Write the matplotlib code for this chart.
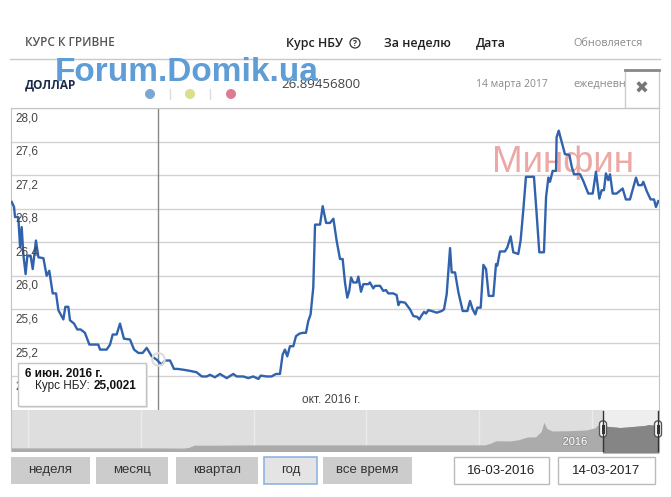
import matplotlib
matplotlib.use('Agg')
import matplotlib.pyplot as plt
import matplotlib.patheffects as pe
import numpy as np
from matplotlib.patches import Rectangle, FancyBboxPatch, Circle

# days since 16-03-2016 and NBU USD rate
days = [0, 1.3, 1.85, 3.7, 4.7, 5.6, 6.5, 7.8, 8.8, 10.6, 11.8, 13.6, 15.0, 17.8,
        19.6, 21.1, 23.0, 24.9, 26.2, 29.0, 30.1, 31.8, 32.7, 35.0, 36.8, 38.7,
        41.1, 43.6, 48.6, 49.6, 53.3, 55.2, 56.7, 58.9, 60.8, 63.0, 66.4, 68.7,
        71.1, 73.5, 75.8, 78.6, 81.4, 84.2, 86.1, 88.9, 91.1, 93.0, 96.4, 99.2,
        103.8, 106.7, 109.5, 111.3, 114.1, 116.9, 120.7, 124.4, 126.3, 130.0,
        132.8, 135.6, 138.5, 139.8, 143.1, 145.9, 148.4, 150.6, 152.1, 153.4,
        154.7, 156.2, 158.1, 159.6, 161.5, 163.4, 165.2, 166.5, 167.8, 169.3,
        170.3, 173.1, 174.6, 176.5, 178.7, 180.6, 182.4, 184.3, 185.8, 187.1,
        188.4, 189.5, 190.5, 191.8, 193.7, 194.6, 196.1, 197.4, 200.2, 201.1,
        203.0, 204.0, 206.8, 208.6, 210.1, 211.4, 214.2, 216.1, 217.1, 218.0,
        220.8, 223.6, 225.5, 227.7, 228.8, 230.2, 231.5, 232.6, 233.9, 235.8,
        238.6, 241.4, 242.7, 244.2, 246.1, 247.0, 248.9, 250.8, 253.2, 255.8,
        257.3, 258.8, 260.3, 261.4, 263.3, 264.8, 266.3, 267.8, 270.4, 271.9,
        272.6, 274.1, 276.9, 278.3, 280.1, 281.6, 284.4, 285.7, 287.2, 288.7,
        293.2, 294.7, 296.2, 298.8, 300.0, 301.3, 302.2, 303.7, 305.6, 305.9,
        307.1, 308.2, 310.6, 313.1, 314.4, 315.7, 319.1, 320.9, 323.7, 326.2,
        328.0, 329.9, 331.2, 332.5, 333.6, 334.9, 335.9, 337.4, 339.6, 343.0,
        344.8, 347.1, 350.5, 351.8, 353.7, 354.6, 356.5, 358.7, 360.6, 361.7, 363]
rates = [26.88, 26.82, 26.70, 26.70, 26.34, 26.58, 26.26, 26.02, 26.24, 26.24,
         26.08, 26.42, 26.22, 26.21, 26.00, 26.06, 25.79, 25.79, 25.59, 25.48,
         25.63, 25.63, 25.47, 25.43, 25.36, 25.36, 25.32, 25.18, 25.18, 25.12,
         25.12, 25.18, 25.30, 25.30, 25.43, 25.25, 25.24, 25.12, 25.08, 25.08,
         25.14, 25.04, 25.00, 24.94, 24.99, 24.99, 24.89, 24.89, 24.88, 24.87,
         24.85, 24.80, 24.80, 24.82, 24.79, 24.83, 24.78, 24.83, 24.80, 24.80,
         24.78, 24.80, 24.77, 24.81, 24.80, 24.80, 24.83, 24.83, 25.06, 25.12,
         25.04, 25.16, 25.16, 25.28, 25.31, 25.32, 25.32, 25.46, 25.54, 25.86,
         26.61, 26.61, 26.83, 26.63, 26.63, 26.68, 26.42, 26.20, 26.20, 25.92,
         25.74, 25.82, 25.98, 25.92, 25.92, 25.99, 25.81, 25.90, 25.90, 25.92,
         25.85, 25.88, 25.88, 25.82, 25.83, 25.79, 25.79, 25.77, 25.65, 25.69,
         25.68, 25.60, 25.52, 25.51, 25.48, 25.53, 25.57, 25.55, 25.59, 25.58,
         25.56, 25.58, 25.60, 25.78, 26.33, 26.04, 26.04, 25.80, 25.58, 25.58,
         25.70, 25.60, 25.54, 25.62, 25.62, 26.13, 26.08, 25.76, 25.76, 26.14,
         26.12, 26.29, 26.29, 26.34, 26.47, 26.28, 26.26, 26.42, 26.78, 27.18,
         27.18, 26.74, 26.28, 26.28, 26.94, 27.17, 27.12, 27.25, 27.25, 27.65,
         27.73, 27.64, 27.45, 27.44, 27.30, 27.21, 27.21, 27.13, 26.98, 26.98,
         27.24, 26.92, 27.02, 27.02, 27.22, 27.14, 27.21, 26.98, 26.98, 27.04,
         26.91, 26.91, 27.17, 27.08, 27.08, 27.12, 27.01, 26.91, 26.91, 26.82, 26.89]

y_ticks = [24.8, 25.2, 25.6, 26.0, 26.4, 26.8, 27.2, 27.6, 28.0]
tip_day, tip_date, tip_value = 82, '6 июн. 2016 г.', 25.0021

# navigator: full history (year, rate)
nav_years = [2005.7, 2008.3, 2008.75, 2008.85, 2008.95, 2009.3, 2010.0, 2014.1,
             2014.2, 2014.3, 2014.55, 2014.7, 2014.85, 2015.0, 2015.1, 2015.15,
             2015.2, 2015.3, 2015.6, 2015.9, 2016.05, 2016.1, 2016.2, 2016.5,
             2016.7, 2016.95, 2017.0, 2017.19]
nav_rates = [5.05, 5.05, 4.85, 5.5, 7.7, 7.7, 7.95, 7.99, 9.5, 12.0, 11.8, 13.0,
             15.6, 15.8, 21.0, 30.0, 24.0, 21.5, 21.8, 22.5, 24.5, 27.0, 26.5,
             24.9, 25.8, 27.0, 27.8, 26.9]
nav_sel = (2016.2, 2017.19)

buttons = ['неделя', 'месяц', 'квартал', 'год', 'все время']
date_from, date_to = '16-03-2016', '14-03-2017'

W, H = 671, 497
fig = plt.figure(figsize=(W / 100, H / 100), dpi=100)


def box(x0, y0, x1, y1):
    return fig.add_axes([x0 / W, 1 - y1 / H, (x1 - x0) / W, (y1 - y0) / H])


def pixel_layer(z):
    a = box(0, 0, W, H)
    a.set_xlim(0, W)
    a.set_ylim(H, 0)
    a.axis('off')
    a.set_zorder(z)
    return a


OS = 'Open Sans'
AR = 'Liberation Sans'

# header
back = pixel_layer(0)
back.text(25, 43, 'КУРС К ГРИВНЕ', fontsize=8.5, family=OS, weight='semibold',
          color='#555555', va='center')
back.text(286, 43, 'Курс НБУ', fontsize=9, family=OS, weight='semibold',
          color='#222222', va='center')
back.add_patch(Circle((355, 43), 5, fc='none', ec='#333333', lw=0.9))
back.text(355, 43.5, '?', fontsize=6, family=OS, weight='bold', color='#333333',
          ha='center', va='center')
back.text(384, 43, 'За неделю', fontsize=9, family=OS, weight='semibold',
          color='#222222', va='center')
back.text(476, 43, 'Дата', fontsize=9, family=OS, weight='semibold',
          color='#222222', va='center')
back.text(573, 44, 'Обновляется', fontsize=7.8, family=OS, color='#8a8a8a',
          va='center')
back.plot([10, 660], [59, 59], color='#c8c8c8', lw=1)

back.text(25, 85, 'ДОЛЛАР', fontsize=8.5, family=OS, weight='bold',
          color='#1c2b4a', va='center')
for cx, col in zip([150, 190, 231], ['#7ba7d4', '#d9df8c', '#dc7b93']):
    back.add_patch(Circle((cx, 94), 5, fc=col, ec='none'))
for sx in [170, 210]:
    back.plot([sx, sx], [89, 99], color='#dddddd', lw=1)
back.text(281, 84, '26.89456800', fontsize=9.5, family=OS, color='#444444',
          va='center')
back.text(476, 85, '14 марта 2017', fontsize=7.5, family=OS, color='#8a8a8a',
          va='center')
back.text(573, 84, 'ежедневно', fontsize=7.8, family=OS, color='#8a8a8a',
          va='center')
back.add_patch(Rectangle((625, 70), 34, 38, fc='white', ec='#cccccc', lw=1, zorder=3))
back.plot([625, 659], [70, 70], color='#888888', lw=2, zorder=4)
back.text(642, 89, '✖', fontsize=12, family='DejaVu Sans', color='#777777',
          ha='center', va='center', zorder=4)

# buttons and date fields
bx = [(11, 90), (96, 168), (176, 258), (264, 317), (323, 412)]
for (x0, x1), lab in zip(bx, buttons):
    active = lab == 'год'
    back.add_patch(Rectangle((x0, 457), x1 - x0, 27,
                             fc='#e4e4e4' if active else '#cccccc',
                             ec='#8fb4de' if active else 'none', lw=1.2))
    back.text((x0 + x1) / 2, 470.5, lab, fontsize=9.5, family=AR, color='#333333',
              ha='center', va='center')
for (x0, x1), lab in zip([(454, 549), (558, 655)], [date_from, date_to]):
    back.add_patch(Rectangle((x0, 457), x1 - x0, 27, fc='white', ec='#bbbbbb', lw=1))
    back.text((x0 + x1) / 2, 470.5, lab, fontsize=9.5, family=AR, color='#222222',
              ha='center', va='center')

# main chart
ax = box(11, 108, 659, 410)
ax.set_zorder(2)
ax.plot(days, rates, color='#3162ad', lw=1.7, zorder=3, solid_joinstyle='round')
ax.set_xlim(-0.4, 363.4)
ax.set_ylim(24.4, 28.0)
ax.set_yticks(y_ticks)
ax.set_xticks([])
ax.grid(axis='y', color='#d2d2d2', lw=1)
ax.tick_params(left=False, labelleft=False)
for s in ['left', 'right', 'top']:
    ax.spines[s].set_color('#c4c4c4')
ax.spines['bottom'].set_visible(False)
for v in y_ticks:
    ax.annotate(f'{v:.1f}'.replace('.', ','), (0, v), xycoords=('axes fraction', 'data'),
                xytext=(3, -3), textcoords='offset points', fontsize=8.5, family=AR,
                color='#444444', va='top')
ax.text(563, 162, 'Минфин', transform=back.transData, fontsize=26.5, family=AR,
        color='#eba8a5', ha='center', va='center', zorder=1)
ax.axvline(tip_day, color='#888888', lw=1, zorder=2)
ax.plot([tip_day], [tip_value], 'o', ms=9, mfc='none', mec='#dddddd', mew=1.5, zorder=4)
ax.text(331, 400, 'окт. 2016 г.', transform=back.transData, fontsize=8.5, family=AR,
        color='#444444', ha='center', va='center')

# navigator
nav = box(11, 410, 659, 451)
nav.set_zorder(2)
nav.set_facecolor('#dedede')
nav.set_xlim(nav_years[0], nav_years[-1])
nav.set_ylim(2, 42)
nav.set_xticks([])
nav.set_yticks([])
for yr in range(2006, 2017, 2):
    nav.axvline(yr, color='#ebebeb', lw=1, zorder=0)
nav.axvspan(*nav_sel, color='#eeeeee', zorder=0.5)
nav.fill_between(nav_years, 0, nav_rates, color='#ababab', lw=0, zorder=1)
sel_fill = nav.fill_between(nav_years, 0, nav_rates, color='#858585', lw=0, zorder=1.5)
sel_fill.set_clip_path(Rectangle((nav_sel[0], 0), nav_sel[1] - nav_sel[0], 50,
                                 transform=nav.transData))
nav.text(2016.0 - 0.08, 11, '2016', fontsize=8, family=AR, color='white', ha='right',
         va='center', path_effects=[pe.withStroke(linewidth=1.5, foreground='#999999')])
for s in nav.spines.values():
    s.set_visible(False)
nav.spines['left'].set_visible(True)
nav.spines['left'].set_color('#c4c4c4')
nav.spines['right'].set_visible(True)
nav.spines['right'].set_color('#c4c4c4')

# front overlay: handles, tooltip, watermark
front = pixel_layer(5)
for hx in [603, 658]:
    front.plot([hx, hx], [411, 451], color='#333333', lw=1)
    front.add_patch(FancyBboxPatch((hx - 3.5, 421), 7, 16, boxstyle='round,pad=0,rounding_size=3',
                                   fc='white', ec='#555555', lw=1))
    front.plot([hx - 1, hx - 1], [425, 433], color='#333333', lw=0.8)
    front.plot([hx + 1, hx + 1], [425, 433], color='#333333', lw=0.8)

front.add_patch(Rectangle((20, 365), 128, 43, fc='#e6e6e6', ec='none'))
front.add_patch(Rectangle((18, 363), 128, 43, fc='white', ec='#c4c4c4', lw=1))
front.text(25, 374, tip_date, fontsize=8.5, family=AR, weight='bold', color='#111111',
           va='center')
lbl = front.text(35, 389, 'Курс НБУ:', fontsize=8.5, family=AR, color='#222222',
                 va='baseline')
front.annotate(f'{tip_value:.4f}'.replace('.', ','), xy=(1, 0), xycoords=lbl,
               xytext=(3, 0), textcoords='offset points', fontsize=8.5, family=AR,
               weight='bold', color='#111111', va='bottom')

front.text(55, 81, 'Forum.Domik.ua', fontsize=24, family=AR, weight='bold',
           color='#5f9dd6', va='baseline')

fig.savefig('out.png', dpi=100)
